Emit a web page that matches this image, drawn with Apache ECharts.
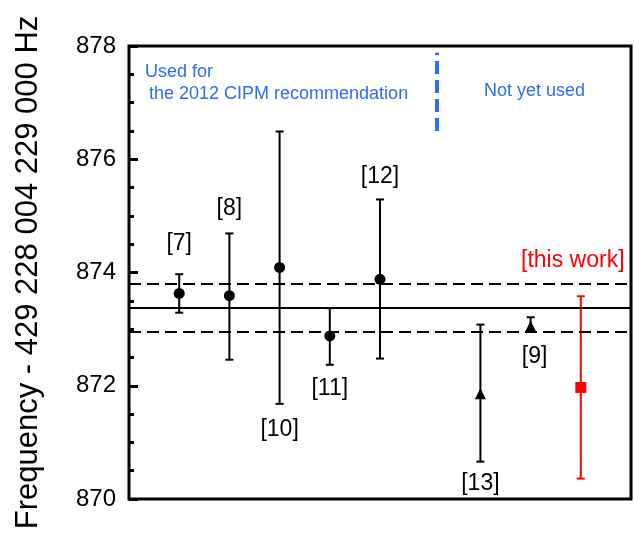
<!DOCTYPE html>
<html>
<head>
<meta charset="utf-8">
<script src="https://cdn.jsdelivr.net/npm/echarts@6/dist/echarts.min.js"></script>
<style>html,body{margin:0;padding:0;background:#fff}#c{width:634px;height:534px}</style>
</head>
<body>
<div id="c"></div>
<script>
// ---- data ----
var refs    = ['[7]', '[8]', '[10]', '[11]', '[12]', '[13]', '[9]', '[this work]'];
var xPos    = [1, 2, 3, 4, 5, 7, 8, 9];
var values  = [873.63, 873.59, 874.09, 872.88, 873.88, 871.86, 873.05, 871.97];
var lows    = [873.29, 872.46, 871.68, 872.37, 872.48, 870.66, 872.97, 870.36];
var highs   = [873.97, 874.69, 876.49, 873.37, 875.29, 873.08, 873.21, 873.58];
var shapes  = ['circle', 'circle', 'circle', 'circle', 'circle', 'triangle', 'triangle', 'rect'];
var meanValue = 873.38;
var bandLow = 872.95;
var bandHigh = 873.81;
var dividerX = 6.14;
var dividerY = [876.5, 877.88];
var yTicks = [870, 872, 874, 876, 878];

// ---- label layout (pixels, not data) ----
var labelSide = ['top', 'top', 'bottom', 'bottom', 'top', 'bottom', 'bottom', 'top'];
var labelGap  = [31, 25, 26, 24, 23, 22, 26, 36];
var labelDx   = [0, 0, 0, 0, 0, 0, 4, -8];

var black = '#000';
var red = '#ff0000';
var blue = '#2a6ff0';

var chart = echarts.init(document.getElementById('c'), null, {renderer: 'canvas'});

var errData = xPos.map(function (x, i) { return [x, lows[i], highs[i], i]; });

var scatterBlack = [], scatterRed = [];
xPos.forEach(function (x, i) {
  var item = {value: [x, values[i]], symbol: shapes[i]};
  if (i === refs.length - 1) scatterRed.push(item); else scatterBlack.push(item);
});

var option = {
  animation: false,
  grid: {left: 129, right: 3, top: 46, bottom: 35, show: true, borderColor: black, borderWidth: 3, backgroundColor: 'transparent'},
  xAxis: {
    type: 'value', min: 0, max: 10,
    axisLine: {show: false}, axisTick: {show: false}, axisLabel: {show: false}, splitLine: {show: false}
  },
  yAxis: {
    type: 'value', min: yTicks[0], max: yTicks[yTicks.length - 1], interval: 2,
    name: 'Frequency - 429 228 004 229 000 Hz',
    nameLocation: 'middle', nameGap: 85, nameRotate: 90,
    nameTextStyle: {fontSize: 31, color: black, fontFamily: 'Liberation Sans'},
    axisLine: {show: false},
    axisTick: {show: true, inside: true, length: 9, lineStyle: {color: black, width: 3}},
    minorTick: {show: true, splitNumber: 4, length: 5, lineStyle: {color: black, width: 3}},
    axisLabel: {fontSize: 24, color: black, fontFamily: 'Liberation Sans', margin: 13},
    splitLine: {show: false}
  },
  series: [
    {
      type: 'custom',
      data: errData,
      z: 3,
      renderItem: function (params, api) {
        var i = api.value(3);
        var x = api.value(0);
        var lo = api.coord([x, api.value(1)]);
        var hi = api.coord([x, api.value(2)]);
        var isLast = i === refs.length - 1;
        var col = isLast ? red : black;
        var cw = 4;
        var tx = lo[0] + labelDx[i];
        var ty = labelSide[i] === 'top' ? hi[1] - labelGap[i] : lo[1] + labelGap[i];
        return {
          type: 'group',
          children: [
            {type: 'line', shape: {x1: lo[0], y1: lo[1], x2: hi[0], y2: hi[1]}, style: {stroke: col, lineWidth: 2}},
            {type: 'line', shape: {x1: lo[0] - cw, y1: lo[1], x2: lo[0] + cw, y2: lo[1]}, style: {stroke: col, lineWidth: 2}},
            {type: 'line', shape: {x1: hi[0] - cw, y1: hi[1], x2: hi[0] + cw, y2: hi[1]}, style: {stroke: col, lineWidth: 2}},
            {type: 'text', x: tx, y: ty, style: {text: refs[i], fill: col, font: '23px "Liberation Sans"', align: 'center', verticalAlign: 'middle'}}
          ]
        };
      }
    },
    {
      type: 'scatter',
      data: scatterBlack,
      symbolSize: 11,
      itemStyle: {color: black, opacity: 1},
      z: 4,
      markLine: {
        silent: true, symbol: 'none', label: {show: false},
        data: [
          {yAxis: meanValue, lineStyle: {type: 'solid', color: black, width: 2}},
          {yAxis: bandHigh, lineStyle: {type: [12, 6], color: black, width: 2}},
          {yAxis: bandLow, lineStyle: {type: [12, 6], color: black, width: 2}},
          [
            {coord: [dividerX, dividerY[0]], lineStyle: {type: [13, 6], color: blue, width: 4}},
            {coord: [dividerX, dividerY[1]]}
          ]
        ]
      }
    },
    {
      type: 'scatter',
      data: scatterRed,
      symbolSize: 11,
      itemStyle: {color: red, opacity: 1},
      z: 4
    }
  ],
  graphic: [
    {type: 'text', left: 145, top: 63, style: {text: 'Used for', fill: blue, font: '18px "Liberation Sans"'}},
    {type: 'text', left: 149, top: 85, style: {text: 'the 2012 CIPM recommendation', fill: blue, font: '18px "Liberation Sans"'}},
    {type: 'text', left: 484, top: 82, style: {text: 'Not yet used', fill: blue, font: '18px "Liberation Sans"'}}
  ]
};
chart.setOption(option);
</script>
</body>
</html>
